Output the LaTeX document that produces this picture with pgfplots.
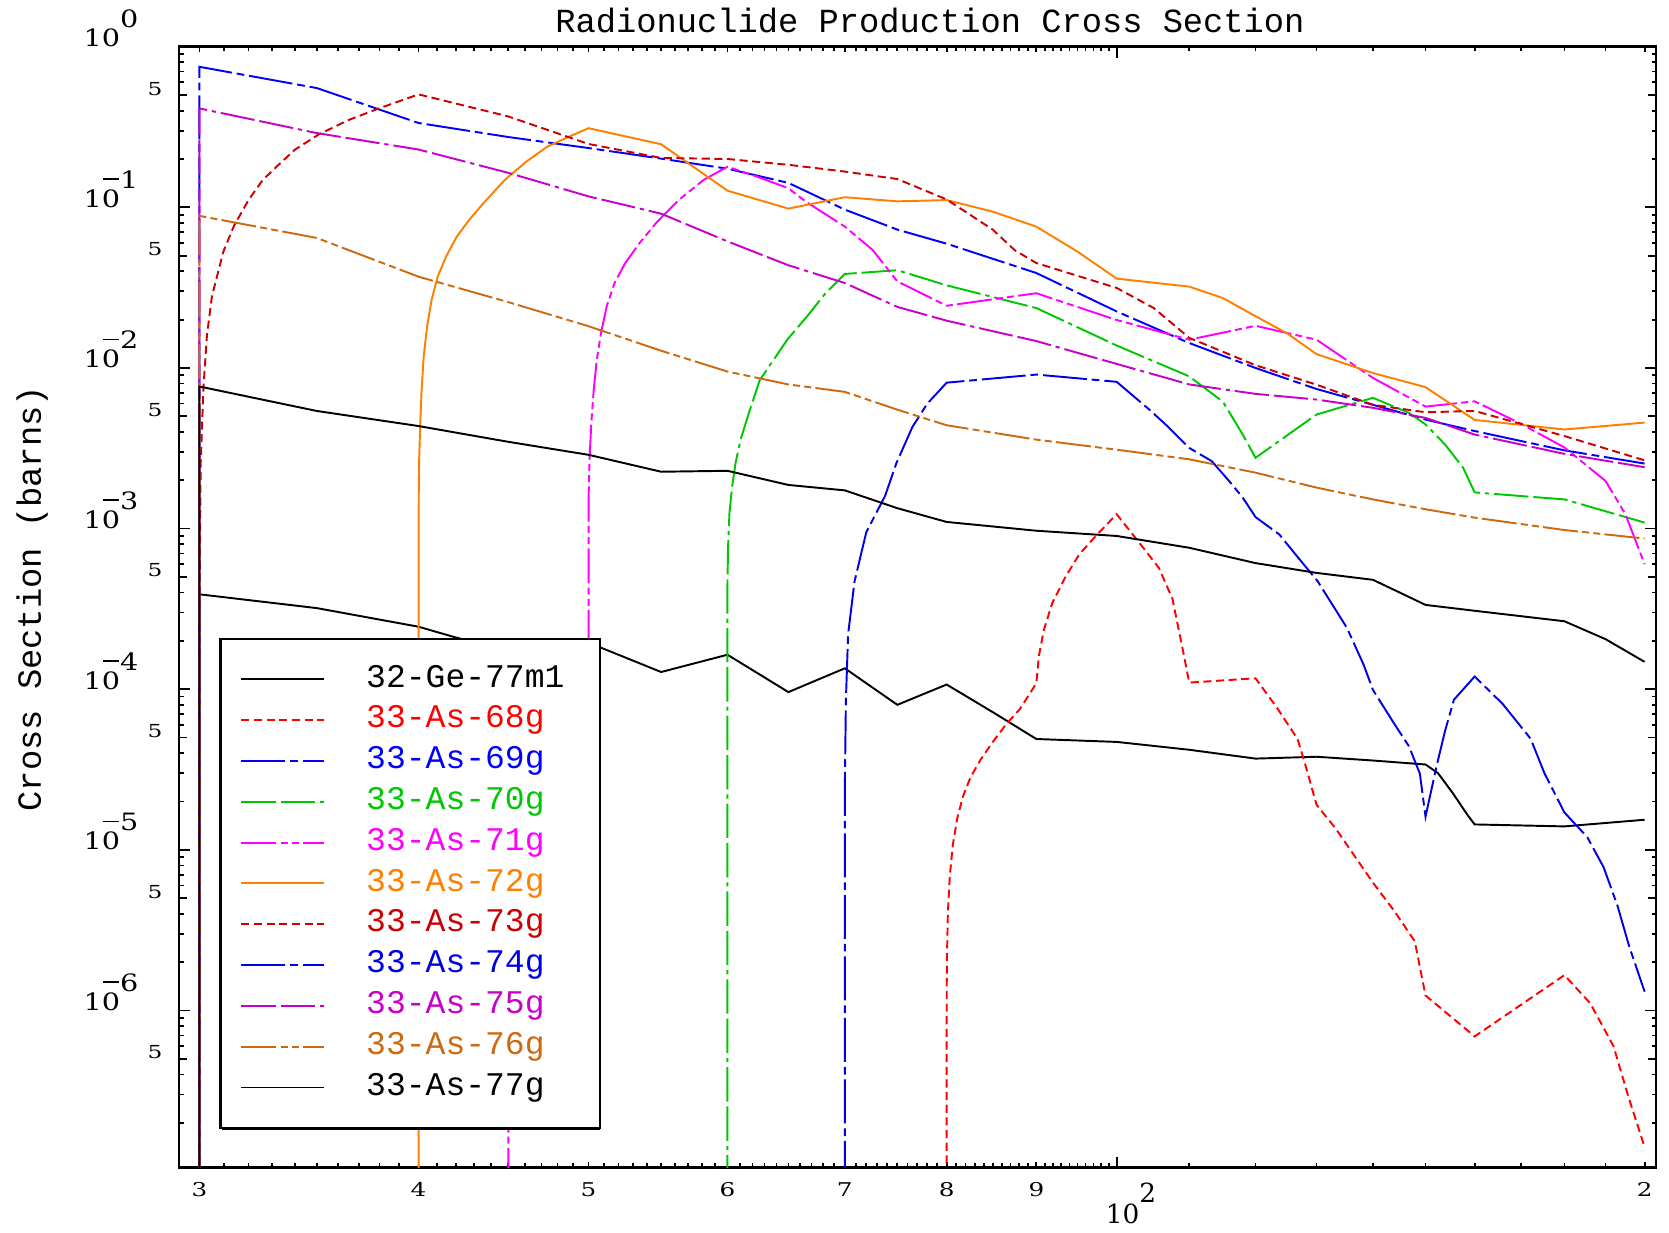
\documentclass[border=0pt]{standalone}
\usepackage{fontspec}
\usepackage{graphicx}
\usepackage{pgfplots}
\pgfplotsset{compat=1.18}
\newfontfamily\monofont{Liberation Mono}
\newfontfamily\tickfont{DejaVu Serif}

\definecolor{c68}{RGB}{255,0,0}
\definecolor{c69}{RGB}{0,0,255}
\definecolor{c70}{RGB}{0,200,0}
\definecolor{c71}{RGB}{255,0,255}
\definecolor{c72}{RGB}{255,128,0}
\definecolor{c73}{RGB}{204,0,0}
\definecolor{c74}{RGB}{0,0,230}
\definecolor{c75}{RGB}{200,0,200}
\definecolor{c76}{RGB}{205,105,15}

\tikzset{
  dS/.style={dash pattern=on 2.3pt off 1.3pt},
  dD/.style={dash pattern=on 12.5pt off 1.4pt on 2.2pt off 1.4pt},
  dL/.style={dash pattern=on 9.8pt off 1.4pt on 9.8pt off 1.4pt on 1.2pt off 1.4pt},
  dDD/.style={dash pattern=on 10pt off 1.2pt on 2pt off 1.2pt on 2pt off 1.2pt},
}

% IDL-like decade labels (wide digits)
\newcommand{\sxa}[1]{\scalebox{1.2}[1]{#1}}
\newcommand{\sxb}[1]{\scalebox{1.3}[1]{#1}}
\newcommand{\ytp}[1]{\sxa{10\raisebox{0.8em}{#1}}}
\newcommand{\ytn}[1]{\sxa{1\rlap{\kern0.04em\rule[1.15em]{0.55em}{0.075em}}0\raisebox{0.8em}{#1}}}

\begin{document}
\begin{tikzpicture}
\begin{axis}[
  scale only axis, width=14.77cm, height=11.21cm,
  xmode=log, ymode=log,
  xmin=29.21, xmax=203, ymin=1.05e-7, ymax=1,
  axis line style={line width=0.8pt},
  every tick/.style={black, line width=0.5pt},
  major tick length=0.11cm, minor tick length=0.045cm,
  xtick={100}, xticklabels={10\raisebox{0.8em}{2}},
  xticklabel style={font=\tickfont\fontsize{7.5}{8}\selectfont, inner sep=0pt, anchor=north west, xshift=-0.115cm, yshift=-0.14cm},
  extra x ticks={30,40,50,60,70,80,90,200},
  extra x tick labels={\sxb{3},\sxb{4},\sxb{5},\sxb{6},\sxb{7},\sxb{8},\sxb{9},\sxb{2}},
  extra x tick style={major tick length=0.055cm, xticklabel style={font=\tickfont\fontsize{5.4}{6}\selectfont, anchor=north, xshift=0.115cm}},
  minor xtick={31,32,33,34,35,36,37,38,39,41,42,43,44,45,46,47,48,49,51,52,53,54,55,56,57,58,59,61,62,63,64,65,66,67,68,69,71,72,73,74,75,76,77,78,79,81,82,83,84,85,86,87,88,89,91,92,93,94,95,96,97,98,99,110,120,130,140,150,160,170,180,190},
  ytick={1,0.1,0.01,0.001,0.0001,0.00001,0.000001},
  yticklabels={\ytp{0},\ytn{1},\ytn{2},\ytn{3},\ytn{4},\ytn{5},\ytn{6}},
  yticklabel style={font=\tickfont\fontsize{6.8}{7}\selectfont, inner sep=0pt, anchor=base east, xshift=-0.40cm},
  extra y ticks={0.5,0.05,0.005,0.0005,0.00005,0.000005,0.0000005},
  extra y tick labels={\sxb{5},\sxb{5},\sxb{5},\sxb{5},\sxb{5},\sxb{5},\sxb{5}},
  extra y tick style={major tick length=0.08cm, yticklabel style={font=\tickfont\fontsize{5.1}{6}\selectfont, xshift=0.24cm}},
  minor ytick={2e-7,3e-7,4e-7,5e-7,6e-7,7e-7,8e-7,9e-7,2e-6,3e-6,4e-6,5e-6,6e-6,7e-6,8e-6,9e-6,2e-5,3e-5,4e-5,5e-5,6e-5,7e-5,8e-5,9e-5,2e-4,3e-4,4e-4,5e-4,6e-4,7e-4,8e-4,9e-4,2e-3,3e-3,4e-3,5e-3,6e-3,7e-3,8e-3,9e-3,2e-2,3e-2,4e-2,5e-2,6e-2,7e-2,8e-2,9e-2,2e-1,3e-1,4e-1,5e-1,6e-1,7e-1,8e-1,9e-1},
  legend style={at={(0.0271,0.4727)}, anchor=north west, draw=black, line width=0.7pt, fill=white,
    font=\monofont\fontsize{9.4}{10}\selectfont, inner xsep=0.2cm, inner ysep=0.2cm,
    row sep=0pt, column sep=0.41cm,
    nodes={inner sep=0pt, minimum height=0.408cm, text height=0.62em, text depth=0.18em, text width=2.14cm},
    cells={anchor=west}},
  legend image code/.code={\draw[#1] (0cm,0cm) -- (0.83cm,0cm);},
]

% 32-Ge-77m1
\addplot[black, line width=0.55pt] coordinates {
(30,1e-9) (30,3.9e-4) (35,3.2e-4) (40,2.45e-4) (42,2.1e-4) (45,1.75e-4) (50,1.95e-4)
(55,1.28e-4) (60,1.64e-4) (65,9.6e-5) (70,1.35e-4) (75,8.0e-5) (80,1.07e-4) (85,7.2e-5)
(90,4.9e-5) (100,4.7e-5) (110,4.2e-5) (120,3.7e-5) (130,3.8e-5) (140,3.6e-5) (150,3.4e-5)
(152.5,3.0e-5) (155.5,2.25e-5) (158.5,1.65e-5) (160,1.44e-5) (180,1.4e-5) (200,1.54e-5)};
\addlegendentry{32-Ge-77m1}

% 33-As-68g
\addplot[c68, dS, line width=0.55pt] coordinates {
(80,1e-9) (80,5.5e-7) (80.02,1.9e-6) (80.13,4.1e-6) (80.34,6.9e-6) (80.65,1.07e-5)
(81.11,1.56e-5) (81.72,2.14e-5) (82.56,2.84e-5) (83.67,3.66e-5) (85,4.7e-5) (86.5,6.05e-5)
(88.1,7.55e-5) (90,1.09e-4) (90.3,1.61e-4) (90.9,2.35e-4) (91.9,3.44e-4) (93.5,5.0e-4)
(95.2,6.9e-4) (97.4,9.1e-4) (100,1.23e-3) (102.9,8.3e-4) (105.7,5.7e-4) (107.6,3.66e-4)
(109,1.83e-4) (110,1.1e-4) (120,1.17e-4) (123.4,7.7e-5) (126.8,4.9e-5) (128,3.5e-5)
(130,1.91e-5) (133.3,1.36e-5) (140,6.25e-6) (143.9,4.2e-6) (147.9,2.7e-6) (150,1.24e-6)
(160,6.9e-7) (180,1.66e-6) (186.2,1.11e-6) (192,6.0e-7) (195.8,2.9e-7) (200,1.41e-7)};
\addlegendentry{\textcolor{c68}{33-As-68g}}

% 33-As-69g
\addplot[c69, dD, line width=0.55pt] coordinates {
(30,1e-9) (30,0.75) (35,0.553) (40,0.335) (45,0.274) (50,0.234) (55,0.201) (60,0.174)
(65,0.142) (70,0.0968) (75,0.0727) (80,0.0594) (90,0.039) (100,0.0225) (110,0.0143)
(120,0.0100) (130,0.0074) (140,0.0059) (150,0.00477) (160,0.00405) (180,0.00307) (200,0.00254)};
\addlegendentry{\textcolor{c69}{33-As-69g}}

% 33-As-70g
\addplot[c70, dL, line width=0.55pt] coordinates {
(60,1e-9) (60,4.5e-4) (60.05,7.7e-4) (60.16,1.25e-3) (60.37,1.83e-3) (60.64,2.55e-3)
(61.04,3.57e-3) (61.7,5.2e-3) (62.6,8.4e-3) (64.9,0.015) (66.6,0.0209) (68.3,0.0295)
(70,0.0385) (75,0.0406) (80,0.0327) (90,0.0236) (100,0.0138)
(110,0.00887) (115,0.00615) (118,0.00385) (120,0.00276) (130,0.00513) (140,0.00652)
(146.8,0.00525) (150,0.00445) (153.9,0.00334) (157.6,0.00239) (160,0.00168) (180,0.00152) (200,0.00109)};
\addlegendentry{\textcolor{c70}{33-As-70g}}

% 33-As-71g
\addplot[c71, dDD, line width=0.55pt] coordinates {
(45,1e-9) (45,2e-6) (50,2e-5) (50,1.5e-3) (50.06,2.68e-3) (50.18,4.53e-3) (50.34,7.3e-3)
(50.54,0.0112) (50.82,0.0164) (51.2,0.0241) (51.73,0.0337) (52.46,0.0449) (53.45,0.0598)
(54.72,0.0815) (56.28,0.111) (58.15,0.148) (60,0.179) (62.3,0.156) (65,0.1315) (66.5,0.1086)
(70,0.0759) (72.6,0.0543) (75,0.0346) (80,0.0244) (90,0.0292) (100,0.0199) (110,0.015)
(120,0.0183) (130,0.015) (140,0.00867) (150,0.00575) (160,0.0062) (170,0.0045) (180,0.0032)
(190,0.00198) (195,0.00123) (200,0.0006)};
\addlegendentry{\textcolor{c71}{33-As-71g}}

% 33-As-72g
\addplot[c72, line width=0.55pt] coordinates {
(40,1e-9) (40,8e-4) (40.01,1.6e-3) (40.03,2.68e-3) (40.09,4.53e-3) (40.16,7.3e-3)
(40.27,0.0118) (40.45,0.0181) (40.69,0.0265) (41.02,0.0371) (41.47,0.0494) (42.06,0.0658)
(42.75,0.0836) (43.55,0.106) (44.79,0.148) (46.06,0.192) (47.37,0.239) (48.72,0.275)
(50,0.311) (55,0.247) (60,0.127)
(65,0.0982) (70,0.1156) (75,0.109) (80,0.111) (85,0.094) (90,0.0758) (95,0.053) (100,0.036)
(110,0.0321) (115,0.0272) (120,0.021) (125,0.0165) (130,0.0122) (140,0.0093) (150,0.0076)
(160,0.00475) (180,0.00414) (200,0.00457)};
\addlegendentry{\textcolor{c72}{33-As-72g}}

% 33-As-73g
\addplot[c73, dS, line width=0.55pt] coordinates {
(30,1e-9) (30.005,3e-4) (30.05,2.5e-3) (30.16,7.5e-3) (30.3,0.016) (30.5,0.028) (30.96,0.053)
(31.4,0.077) (32.0,0.111) (32.6,0.148) (33.2,0.179) (34.0,0.228) (35.1,0.285) (36.5,0.35)
(38.0,0.414) (40,0.505) (45,0.368)
(50,0.248) (55,0.203) (60,0.2) (65,0.184) (70,0.167) (75,0.150) (80,0.112) (85,0.0726)
(87.5,0.054) (90,0.045) (100,0.0315) (105,0.0236) (110,0.0154) (120,0.0104) (130,0.00787)
(140,0.0059) (150,0.0053) (160,0.0054) (180,0.00377) (200,0.00266)};
\addlegendentry{\textcolor{c73}{33-As-73g}}

% 33-As-74g
\addplot[c74, dD, line width=0.55pt] coordinates {
(70,1e-9) (70,2.4e-5) (70.1,8.6e-5) (70.3,2.2e-4) (70.9,4.7e-4) (72,9.5e-4) (73.8,1.6e-3)
(74.9,2.55e-3) (76.5,4.3e-3) (78,6.0e-3) (80,8.1e-3) (90,9.1e-3) (100,8.2e-3) (104.4,5.5e-3)
(107,4.3e-3) (110,3.18e-3) (113.3,2.63e-3) (115.9,1.98e-3) (118,1.56e-3) (120,1.18e-3)
(123.8,9.2e-4) (126.9,6.6e-4) (130.2,4.7e-4) (135.3,2.41e-4) (138.3,1.42e-4) (140,9.9e-5)
(143.9,6.15e-5) (146.8,4.4e-5) (148.9,2.98e-5) (150,1.61e-5) (152.2,3.33e-5) (153.9,5.5e-5)
(155.7,8.6e-5) (160,1.2e-4) (166,8.1e-5) (172.2,4.92e-5) (175.4,2.98e-5) (180,1.71e-5)
(185.5,1.2e-5) (189.5,7.8e-6) (193,4.5e-6) (196,2.5e-6) (200,1.31e-6)};
\addlegendentry{\textcolor{c74}{33-As-74g}}

% 33-As-75g
\addplot[c75, dL, line width=0.55pt] coordinates {
(30,1e-9) (30,0.413) (35,0.29) (40,0.229) (45,0.164) (50,0.117) (55,0.0913) (60,0.0614)
(65,0.0436) (70,0.0338) (75,0.024) (80,0.0197) (90,0.0147) (100,0.0106) (110,0.0079)
(120,0.0069) (130,0.00636) (140,0.00565) (150,0.00489) (160,0.00385) (180,0.00292) (200,0.00241)};
\addlegendentry{\textcolor{c75}{33-As-75g}}

% 33-As-76g
\addplot[c76, dDD, line width=0.55pt] coordinates {
(30,1e-9) (30,0.0885) (35,0.0645) (40,0.037) (45,0.0257) (50,0.0182) (55,0.0128) (60,0.0095)
(65,0.0079) (70,0.0071) (75,0.0055) (80,0.0044) (90,0.00358) (100,0.0031) (110,0.0027)
(120,0.00223) (130,0.0018) (140,0.00152) (150,0.00132) (160,0.00117) (180,0.00098) (200,0.000867)};
\addlegendentry{\textcolor{c76}{33-As-76g}}

% 33-As-77g
\addplot[black, line width=0.55pt] coordinates {
(30,1e-9) (30,0.00767) (35,0.0054) (40,0.00435) (45,0.00347) (50,0.00288) (55,0.00226)
(60,0.00229) (65,0.00187) (70,0.00173) (75,0.00134) (80,0.0011) (90,0.00097) (100,0.0009)
(110,0.00076) (120,0.00061) (130,0.00053) (140,0.00048) (145,0.0004) (150,0.000335)
(160,0.000308) (180,0.000265) (190,0.000205) (200,0.000148)};
\addlegendentry{33-As-77g}

% legend shadow
\fill[black] (rel axis cs:0.0293,0.0335) rectangle (rel axis cs:0.2852,0.4699);

\coordinate (sw) at (rel axis cs:0,0);
\coordinate (ne) at (rel axis cs:1,1);
\coordinate (ylab) at (rel axis cs:0,0.5075);
\coordinate (ttl) at (rel axis cs:0.5,1);
\end{axis}
\node[rotate=90, anchor=base, inner sep=0pt, font=\monofont\fontsize{9.6}{10}\selectfont]
  at ([xshift=-1.38cm]ylab) {Cross Section (barns)};
\node[anchor=base, inner sep=0pt, font=\monofont\fontsize{9.6}{10}\selectfont]
  at ([xshift=0.125cm,yshift=0.137cm]ttl) {Radionuclide Production Cross Section};
\pgfresetboundingbox
\path ([xshift=-1.79cm,yshift=-0.65cm]sw) rectangle ([xshift=0.13cm,yshift=0.467cm]ne);
\end{tikzpicture}
\end{document}
